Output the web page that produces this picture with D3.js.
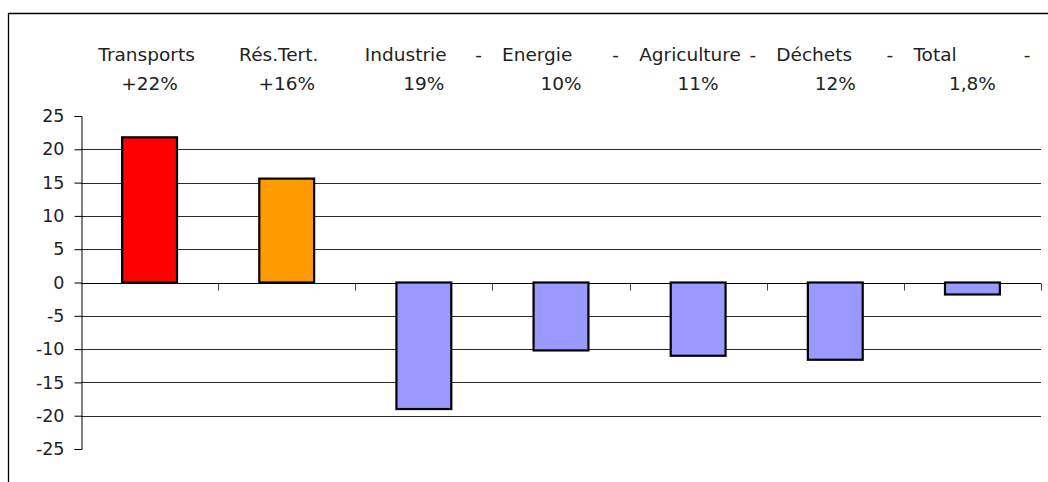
<!DOCTYPE html>
<html>
<head>
<meta charset="utf-8">
<script src="https://cdn.jsdelivr.net/npm/d3@7/dist/d3.min.js"></script>
<style>
  html, body { margin: 0; padding: 0; background: #fff; }
  svg { display: block; }
  text { font-family: "DejaVu Sans", sans-serif; fill: #222; }
</style>
</head>
<body>
<script>
const categories = ["Transports", "Rés.Tert.", "Industrie", "Energie", "Agriculture", "Déchets", "Total"];
const values = [21.8, 15.6, -19.0, -10.2, -11.0, -11.6, -1.8];
const labelPercents = ["+22%", "+16%", "19%", "10%", "11%", "12%", "1,8%"];
const barColors = ["#ff0000", "#ff9900", "#9999ff", "#9999ff", "#9999ff", "#9999ff", "#9999ff"];
const yTicks = [25, 20, 15, 10, 5, 0, -5, -10, -15, -20, -25];

const W = 1048, H = 482;
const svg = d3.select("body").append("svg").attr("width", W).attr("height", H);

// outer frame (top and left)
svg.append("path").attr("d", `M8.5,${H} L8.5,13.5 L${W},13.5`)
  .attr("fill", "none").attr("stroke", "#000").attr("stroke-width", 1.3);

const plot = { left: 81, right: 1041, top: 116, bottom: 449 };

const x = d3.scaleBand().domain(categories).range([plot.left, plot.right]).paddingInner(0).paddingOuter(0);
const y = d3.scaleLinear().domain([-25, 25]).range([plot.bottom, plot.top]);

// gridlines
svg.append("g").selectAll("line")
  .data(yTicks.filter(d => d !== 0 && Math.abs(d) !== 25))
  .join("line")
  .attr("x1", plot.left).attr("x2", plot.right)
  .attr("y1", d => Math.round(y(d)) + 0.5).attr("y2", d => Math.round(y(d)) + 0.5)
  .attr("stroke", "#2a2a2a").attr("stroke-width", 1);

// y axis
const yAxis = d3.axisLeft(y).tickValues(yTicks).tickSize(7).tickPadding(10).tickFormat(d => String(d));
const gy = svg.append("g").attr("transform", `translate(${plot.left + 0.5},0)`).call(yAxis);
gy.select(".domain").attr("stroke", "#000");
gy.selectAll(".tick line").attr("stroke", "#000");
gy.selectAll(".tick text").style("font-size", "17.5px").style("font-family", "DejaVu Sans, sans-serif").attr("fill", "#222");

// x axis at zero with ticks downward at category boundaries
const zeroY = Math.round(y(0)) + 0.5;
svg.append("line").attr("x1", plot.left).attr("x2", plot.right)
  .attr("y1", zeroY).attr("y2", zeroY).attr("stroke", "#000");
const boundaries = categories.map(c => x(c) + x.bandwidth()).filter(v => v > plot.left);
svg.append("g").selectAll("line").data(boundaries).join("line")
  .attr("x1", d => Math.round(d) + 0.5).attr("x2", d => Math.round(d) + 0.5)
  .attr("y1", zeroY).attr("y2", zeroY + 7)
  .attr("stroke", "#444");

// bars
const barW = x.bandwidth() * 0.4;
svg.append("g").selectAll("rect").data(categories).join("rect")
  .attr("x", (c) => x(c) + (x.bandwidth() - barW) / 2)
  .attr("width", barW)
  .attr("y", (c, i) => y(Math.max(0, values[i])))
  .attr("height", (c, i) => Math.abs(y(values[i]) - y(0)))
  .attr("fill", (c, i) => barColors[i])
  .attr("stroke", "#000").attr("stroke-width", 2.2);

// category labels at top
const lab = svg.append("g").style("font-size", "18.5px");
categories.forEach((c, i) => {
  const cx = x(c) + x.bandwidth() / 2;
  if (values[i] < 0) {
    lab.append("text").attr("x", cx - 59).attr("y", 61).attr("text-anchor", "start").text(c);
    lab.append("text").attr("x", cx + 58).attr("y", 61).attr("text-anchor", "end").text("-");
  } else {
    lab.append("text").attr("x", cx - (i === 0 ? 3 : 8)).attr("y", 61).attr("text-anchor", "middle").text(c);
  }
  lab.append("text").attr("x", cx).attr("y", 90).attr("text-anchor", "middle").text(labelPercents[i]);
});
</script>
</body>
</html>
